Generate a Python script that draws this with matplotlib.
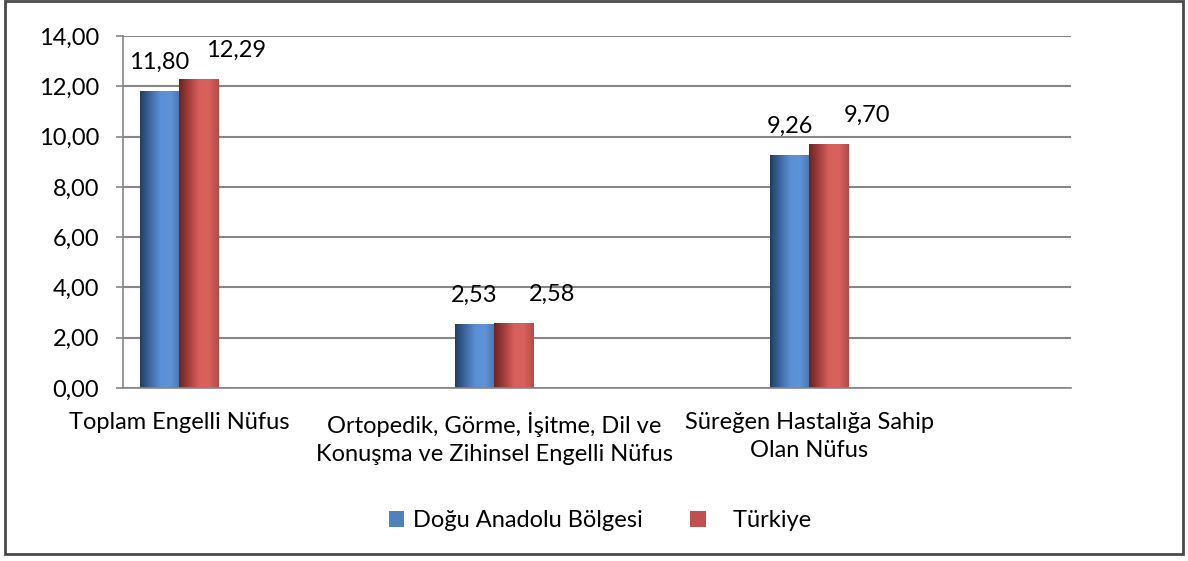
import numpy as np
import matplotlib
matplotlib.use("Agg")
import matplotlib.pyplot as plt
from matplotlib.colors import LinearSegmentedColormap
from matplotlib.patches import Rectangle

categories = [
    "Toplam Engelli Nüfus",
    "Ortopedik, Görme, İşitme, Dil ve\nKonuşma ve Zihinsel Engelli Nüfus",
    "Süreğen Hastalığa Sahip\nOlan Nüfus",
]
series_names = ["Doğu Anadolu Bölgesi", "Türkiye"]
dogu = [11.80, 2.53, 9.26]
turkiye = [12.29, 2.58, 9.70]
yticks = [0, 2, 4, 6, 8, 10, 12, 14]

plt.rcParams["font.family"] = ["Lato", "DejaVu Sans"]
FS = 17

fig = plt.figure(figsize=(11.88, 5.61), dpi=100)
ax = fig.add_axes([0.1035, 0.3084, 0.798, 0.6274])

x = np.arange(len(categories))
width = 0.124

flat = {"Doğu Anadolu Bölgesi": "#4F81BD", "Türkiye": "#C0504D"}
grads = {
    "Doğu Anadolu Bölgesi": ["#223f63", "#3d68a0", "#5a8fd4", "#5f93d8", "#4a77b4"],
    "Türkiye": ["#6b2523", "#a43f3c", "#d65f5b", "#d9625e", "#b34c48"],
}

for vals, name, off in [(dogu, series_names[0], -width / 2), (turkiye, series_names[1], width / 2)]:
    bars = ax.bar(x + off, vals, width, color=flat[name], label=name, zorder=3)
    cmap = LinearSegmentedColormap.from_list(name, grads[name])
    grad = np.linspace(0, 1, 64).reshape(1, -1)
    for b in bars:
        bx, by = b.get_x(), b.get_y()
        im = ax.imshow(grad, cmap=cmap, aspect="auto", zorder=4,
                       extent=[bx, bx + b.get_width(), by, by + b.get_height()])
        im.set_clip_path(b)

# value labels (Türkiye labels sit a bit to the right, as in the original)
for i in range(len(categories)):
    ax.annotate(f"{dogu[i]:.2f}".replace(".", ","), (x[i] - width / 2, dogu[i]),
                xytext=(0, 13), textcoords="offset points", ha="center", va="bottom", fontsize=FS)
    ax.annotate(f"{turkiye[i]:.2f}".replace(".", ","), (x[i] + width / 2 + 0.12, turkiye[i]),
                xytext=(0, 13), textcoords="offset points", ha="center", va="bottom", fontsize=FS)

ax.set_xlim(-0.178, 2.83)
ax.set_ylim(0, 14)
ax.set_yticks(yticks)
ax.set_yticklabels([f"{v:.2f}".replace(".", ",") for v in yticks], fontsize=FS)
ax.set_xticks(x)
ax.set_xticklabels(categories, fontsize=FS, va="top", linespacing=1.45)
ax.tick_params(axis="x", length=0, pad=17)
ax.tick_params(axis="y", length=5, color="#868686", width=1.2, pad=12)
ax.yaxis.grid(True, color="#868686", linewidth=1.5, zorder=0)
ax.set_axisbelow(True)
for s in ["top", "right"]:
    ax.spines[s].set_visible(False)
for s in ["left", "bottom"]:
    ax.spines[s].set_color("#868686")
    ax.spines[s].set_linewidth(1.2)
    ax.spines[s].set_zorder(5)

handles, labels = ax.get_legend_handles_labels()
labels = [labels[0], "   " + labels[1]]
fig.legend(handles, labels, loc="center", bbox_to_anchor=(0.505, 0.072), ncol=2, frameon=False,
           fontsize=FS, handlelength=0.65, handleheight=0.65, columnspacing=2.0,
           handletextpad=0.4)

# outer chart border
fig.add_artist(Rectangle((0.004, 0.012), 0.992, 0.986, transform=fig.transFigure,
                         fill=False, edgecolor="#4a4a4a", linewidth=2.0))

fig.savefig("out.png", dpi=100)
